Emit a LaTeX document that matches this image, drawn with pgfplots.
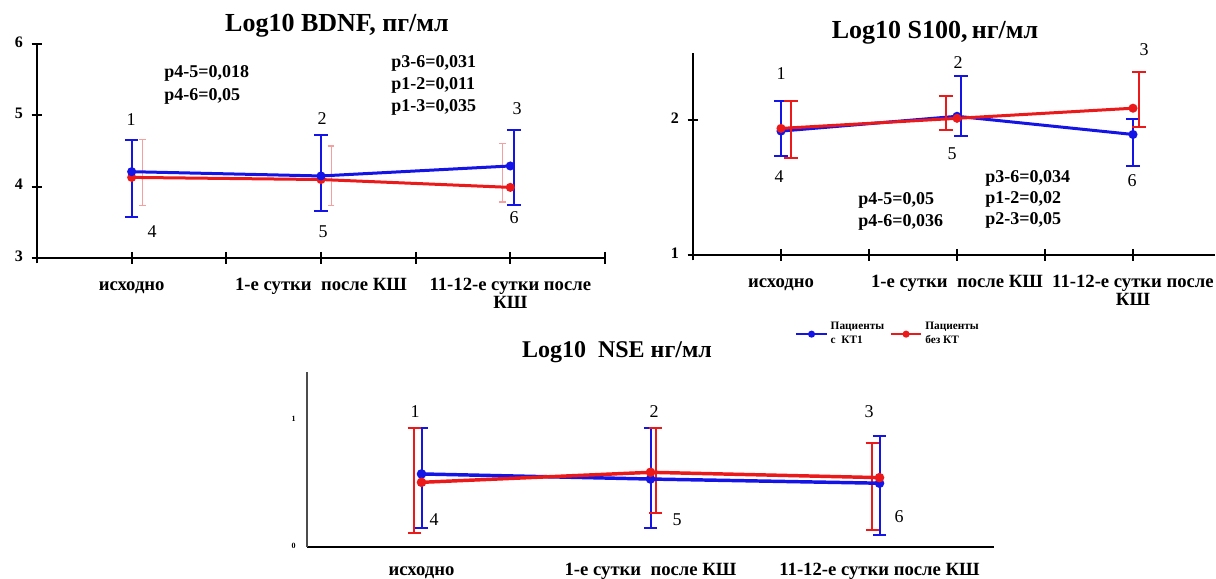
\documentclass[border=0pt]{standalone}
\usepackage{fontspec}
\setmainfont{Liberation Serif}
\usepackage{pgfplots}
\pgfplotsset{compat=1.18}
\definecolor{myblue}{RGB}{20,20,230}
\definecolor{myred}{RGB}{235,25,25}
\definecolor{palered}{RGB}{245,160,160}
\newcommand\catfont{\bfseries\fontsize{14}{13.5}\selectfont}
\newcommand\pfont{\bfseries\fontsize{13.5}{14}\selectfont}
\newcommand\nfont{\fontsize{13.5}{14}\selectfont}
\newcommand\tfont{\bfseries\fontsize{19.5}{20}\selectfont}
\pgfplotsset{
  base/.style={scale only axis, axis lines*=left, clip=false,
    axis line style={line width=1.5pt, black},
    tick style={line width=1.5pt, black}, tick align=center, major tick length=8pt,
    /pgf/number format/assume math mode=true,
    yticklabel style={font=\bfseries\fontsize{12}{12}\selectfont, xshift=-3pt},
    xticklabel style={font=\catfont, align=center, yshift=-7.5pt},
    typeset ticklabels with strut,
    anchor=south west},
  bline/.style={myblue, line width=2.25pt, mark=*, mark size=2.2pt},
  rline/.style={myred, line width=2.25pt, mark=*, mark size=2.2pt},
  xtk/.style={forget plot, only marks, mark=|, mark size=4.5pt, black, mark options={line width=1.5pt, black}},
  bbar/.style={forget plot, draw=none, mark=none, error bars/.cd, y dir=both, y explicit,
    error mark=-, error bar style={draw=myblue, line width=1.5pt},
    error mark options={draw=myblue, rotate=90, line width=1.5pt, mark size=5pt}},
  rbar/.style={forget plot, draw=none, mark=none, error bars/.cd, y dir=both, y explicit,
    error mark=-, error bar style={draw=myred, line width=1.5pt},
    error mark options={draw=myred, rotate=90, line width=1.5pt, mark size=5pt}},
  pbar/.style={forget plot, draw=none, mark=none, error bars/.cd, y dir=both, y explicit,
    error mark=-, error bar style={draw=palered, line width=0.8pt},
    error mark options={draw=palered, rotate=90, line width=0.8pt, mark size=2.5pt}},
}
\newcommand\pv[3]{\node[font=\pfont, anchor=west, inner sep=0pt] at ({#1*0.75pt},{(578-#2)*0.75pt}) {#3};}
\begin{document}
\begin{tikzpicture}
\path[use as bounding box] (0pt,0pt) rectangle (912pt,433.5pt);

% ---------- Chart 1: BDNF ----------
\begin{axis}[base, at={(27.75pt,240pt)}, width=426pt, height=160.5pt,
  xmin=0, xmax=3, ymin=3, ymax=6, ytick={3,4,5,6},
  xtick={0,0.5,1,1.5,2,2.5,3},
  xticklabels={,исходно,,{1-е сутки\ \ после КШ},,{11-12-е сутки после\\КШ},}]
\addplot[xtk] coordinates {(0.5,3) (1,3) (1.5,3) (2,3) (2.5,3) (3,3)};
\addplot[pbar] coordinates {(0.558,4.195) +- (0,0.465) (1.553,4.15) +- (0,0.42) (2.458,4.1975) +- (0,0.4125)};
\addplot[rline] coordinates {(0.5,4.13) (1.5,4.10) (2.5,3.99)};
\addplot[bline] coordinates {(0.5,4.21) (1.5,4.15) (2.5,4.29)};
\addplot[bbar] coordinates {(0.5,4.115) +- (0,0.545) (1.5,4.1875) +- (0,0.5325) (2.52,4.27) +- (0,0.53)};
\end{axis}

% ---------- Chart 2: S100 ----------
\begin{axis}[base, at={(519.75pt,242.25pt)}, width=391.5pt, height=151.5pt,
  xmin=0, xmax=2.966, ymin=1, ymax=2.5, ytick={1,2},
  xtick={0,0.5,1,1.5,2,2.5},
  xticklabels={,исходно,,{1-е сутки\ \ после КШ},,{11-12-е сутки после\\КШ}}]
\addplot[xtk] coordinates {(0.5,1) (1,1) (1.5,1) (2,1) (2.5,1)};
\addplot[bline] coordinates {(0.5,1.92) (1.5,2.03) (2.5,1.895)};
\addplot[bbar] coordinates {(0.5,1.9365) +- (0,0.2035) (1.523,2.105) +- (0,0.225) (2.5,1.835) +- (0,0.175)};
\addplot[rline] coordinates {(0.5,1.94) (1.5,2.015) (2.5,2.09)};
\addplot[rbar] coordinates {(0.557,1.93) +- (0,0.21) (1.4375,2.0525) +- (0,0.1275) (2.534,2.155) +- (0,0.205)};
\end{axis}

% ---------- Chart 3: NSE ----------
\begin{axis}[base, at={(230.25pt,23.25pt)}, width=515.25pt, height=131.25pt,
  xmin=0, xmax=3, ymin=0, ymax=1.38, ytick={0,1}, major tick length=0pt,
  y axis line style={line width=1.5pt, black!70},
  yticklabel style={font=\bfseries\fontsize{6}{6}\selectfont, xshift=-2pt},
  xticklabel style={yshift=-1pt},
  xtick={0.5,1.5,2.5},
  xticklabels={исходно,{1-е сутки\ \ после КШ},{11-12-е сутки после КШ}},
  legend style={at={(0.71,1.30)}, anchor=north west, draw=none, fill=none,
    font=\bfseries\fontsize{8.5}{10.5}\selectfont, inner sep=0pt,
    cells={align=left, anchor=west},
    /tikz/every even column/.append style={column sep=2pt}},
  legend columns=2,
  legend image code/.code={\draw[mark repeat=2,mark phase=2,#1, line width=2pt, mark size=1.6pt] plot coordinates {(0cm,0cm) (0.4cm,0cm) (0.8cm,0cm)};}]
\addplot[bbar] coordinates {(0.5,0.5445) +- (0,0.3955) (1.5,0.5445) +- (0,0.3955) (2.5,0.4825) +- (0,0.3915)};
\addplot[rbar] coordinates {(0.469,0.525) +- (0,0.415) (1.522,0.6035) +- (0,0.3365) (2.469,0.4765) +- (0,0.3405)};
\addplot[bline, line width=2.6pt] coordinates {(0.5,0.576) (1.5,0.536) (2.5,0.503)};
\addlegendentry{Пациенты\\с\ \ КТ1}
\addplot[rline, line width=2.6pt] coordinates {(0.5,0.51) (1.5,0.589) (2.5,0.547)};
\addlegendentry{Пациенты\\без КТ}
\end{axis}

% ---------- Titles ----------
\node[font=\tfont] at ({337*0.75pt},{(578-26)*0.75pt}) {Log10 BDNF, пг/мл};
\node[font=\tfont] at ({935*0.75pt},{(578-33)*0.75pt}) {Log10 S100,\,нг/мл};
\node[font=\bfseries\fontsize{18}{18}\selectfont] at ({617*0.75pt},{(578-352)*0.75pt}) {Log10\ \ NSE нг/мл};

% ---------- Point numbers ----------
\foreach \t/\px/\py in {1/131/120, 2/322/119, 3/517/109, 4/152/232, 5/323/232, 6/514/218,
  1/781/74, 2/958/63, 3/1144/50, 4/779/177, 5/952/154, 6/1132/181,
  1/415/412, 2/654/412, 3/869/412, 4/434/520, 5/677/520, 6/899/517}
  \node[font=\nfont] at ({\px*0.75pt},{(578-\py)*0.75pt}) {\t};

% ---------- p-values ----------
\pv{164}{73}{p4-5=0,018}
\pv{164}{96}{p4-6=0,05}
\pv{391}{63}{p3-6=0,031}
\pv{391}{85}{p1-2=0,011}
\pv{391}{107}{p1-3=0,035}
\pv{858}{200}{p4-5=0,05}
\pv{858}{222}{p4-6=0,036}
\pv{985}{178}{p3-6=0,034}
\pv{985}{199}{p1-2=0,02}
\pv{985}{220}{p2-3=0,05}
\end{tikzpicture}
\end{document}
